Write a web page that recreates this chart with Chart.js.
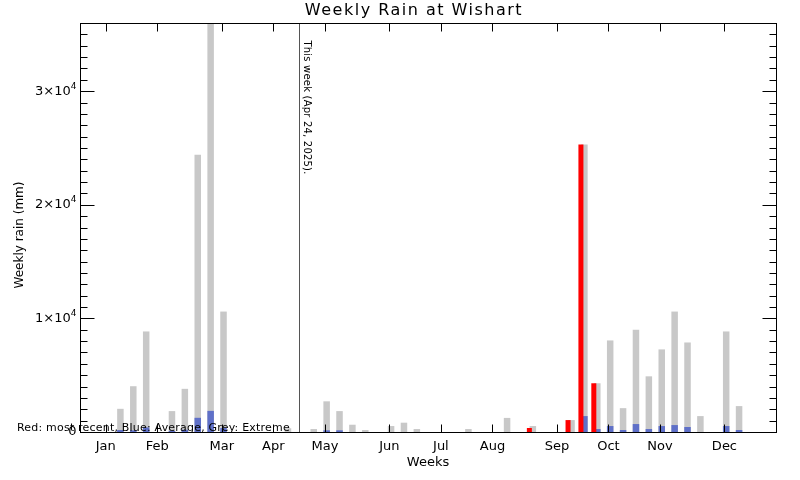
<!DOCTYPE html>
<html>
<head>
<meta charset="utf-8">
<script src="https://cdn.jsdelivr.net/npm/chart.js@4"></script>
<style>
  body { margin: 0; background: #fff; }
  canvas { display: block; }
</style>
</head>
<body>
<canvas id="rainChart" width="800" height="480"></canvas>
<script>
// axis runs over week slots 0..54, data for weeks 1..52
var lastSlot = 54
var monthNames = ['Jan', 'Feb', 'Mar', 'Apr', 'May', 'Jun', 'Jul', 'Aug', 'Sep', 'Oct', 'Nov', 'Dec']
var monthWeeks = [2, 6, 11, 15, 19, 24, 28, 32, 37, 41, 45, 50]
var thisWeek = 17
var thisWeekText = 'This week (Apr 24, 2025).'
var legendText = 'Red: most recent, Blue: Average, Grey: Extreme'
var chartTitle = 'Weekly Rain at Wishart'
var yTitle = 'Weekly rain (mm)'

// weekly rain (mm), weeks 1..52
var extreme = [0, 0, 2040, 4030, 8850, 0, 1840, 3800, 24400, 37000, 10600, 0, 0,
  0, 0, 330, 0, 260, 2700, 1840, 640, 175, 0, 525, 820, 260,
  0, 0, 0, 260, 0, 0, 1240, 0, 525, 0, 0, 1050, 25300,
  4290, 8060, 2100, 9000, 4900, 7270, 10600, 7880, 1400, 0, 8850, 2280, 0]
var average = [0, 0, 175, 150, 400, 0, 100, 200, 1250, 1860, 350, 0, 0,
  0, 0, 0, 0, 0, 150, 150, 0, 0, 0, 0, 0, 0,
  0, 0, 0, 0, 0, 0, 0, 0, 0, 0, 0, 0, 1400,
  260, 525, 175, 700, 260, 525, 610, 440, 0, 0, 525, 175, 0]
var recent = [0, 0, 0, 0, 0, 0, 0, 0, 0, 0, 0, 0, 0,
  0, 0, 0, 0, 0, 0, 0, 0, 0, 0, 0, 0, 0,
  0, 0, 0, 0, 0, 0, 0, 0, 350, 0, 0, 1050, 25300,
  4290, 0, 0, 0, 0, 0, 0, 0, 0, 0, 0, 0, 0]

var yMax = 36000
var yLabelValues = [0, 10000, 20000, 30000]

var slots = []
for (var i = 0; i <= lastSlot; i++) slots.push(i)

function toSlots(values) {
  return slots.map(s => (s >= 1 && s <= values.length) ? values[s - 1] : null)
}

const frame = {
  id: 'frame',
  afterDatasetsDraw(chart) {
    const { ctx, chartArea: a, scales: { x, y } } = chart
    const L = Math.round(a.left) + 0.5
    const R = Math.round(a.right) + 0.5
    const T = Math.round(a.top) + 0.5
    const B = Math.round(a.bottom) + 0.5
    ctx.save()

    // this week marker
    const wx = Math.round(x.getPixelForValue(thisWeek)) + 0.5
    ctx.strokeStyle = '#555'
    ctx.lineWidth = 1
    ctx.beginPath()
    ctx.moveTo(wx, T)
    ctx.lineTo(wx, B)
    ctx.stroke()

    ctx.strokeStyle = '#000'
    ctx.strokeRect(L, T, R - L, B - T)

    ctx.beginPath()
    monthWeeks.forEach(m => {
      const px = Math.round(x.getPixelForValue(m)) + 0.5
      ctx.moveTo(px, B); ctx.lineTo(px, B - 8)
      ctx.moveTo(px, T); ctx.lineTo(px, T + 8)
    })
    for (let v = 0; v <= yMax; v += 1000) {
      const py = Math.round(y.getPixelForValue(v)) + 0.5
      const len = v % 10000 === 0 ? 14 : 7
      ctx.moveTo(L, py); ctx.lineTo(L + len, py)
      ctx.moveTo(R, py); ctx.lineTo(R - len, py)
    }
    ctx.stroke()

    ctx.fillStyle = '#000'

    // y tick labels, n×10⁴
    ctx.textBaseline = 'middle'
    ctx.textAlign = 'right'
    yLabelValues.forEach(v => {
      const py = y.getPixelForValue(v)
      if (v === 0) {
        ctx.font = '13px "DejaVu Sans"'
        ctx.fillText('0', L - 4, py)
        return
      }
      ctx.font = '9px "DejaVu Sans"'
      const ew = ctx.measureText('4').width
      ctx.fillText('4', L - 4, py - 5)
      ctx.font = '13px "DejaVu Sans"'
      ctx.fillText((v / 10000) + '×10', L - 4 - ew, py)
    })

    // titles
    ctx.font = '16px "DejaVu Sans"'
    ctx.letterSpacing = '1.5px'
    ctx.textAlign = 'center'
    ctx.fillText(chartTitle, 414, 11)

    ctx.font = '12px "DejaVu Sans"'
    ctx.letterSpacing = '0px'
    ctx.save()
    ctx.translate(20, 235)
    ctx.rotate(-Math.PI / 2)
    ctx.fillText(yTitle, 0, 0)
    ctx.restore()

    ctx.font = '10px "DejaVu Sans"'
    ctx.letterSpacing = '0.2px'
    ctx.save()
    ctx.translate(wx + 2, T + 17)
    ctx.rotate(Math.PI / 2)
    ctx.textBaseline = 'bottom'
    ctx.textAlign = 'left'
    ctx.fillText(thisWeekText, 0, 0)
    ctx.restore()

    ctx.font = '11px "DejaVu Sans"'
    ctx.letterSpacing = '0.2px'
    ctx.textBaseline = 'alphabetic'
    ctx.textAlign = 'left'
    ctx.fillText(legendText, 17, 431)
    ctx.restore()
  }
}

Chart.defaults.font.family = '"DejaVu Sans", sans-serif'
Chart.defaults.color = '#000'

new Chart(document.getElementById('rainChart'), {
  type: 'bar',
  data: {
    labels: slots,
    datasets: [{
      label: 'Most recent',
      data: toSlots(recent),
      backgroundColor: '#ff0000',
      stack: 'recent',
      categoryPercentage: 0.54,
      barPercentage: 1.44
    }, {
      label: 'Average',
      data: toSlots(average),
      backgroundColor: '#5f70c8',
      stack: 'hist',
      categoryPercentage: 0.54,
      barPercentage: 1.87
    }, {
      label: 'Extreme',
      data: toSlots(extreme),
      backgroundColor: '#c8c8c8',
      stack: 'hist',
      categoryPercentage: 0.54,
      barPercentage: 1.87
    }]
  },
  options: {
    responsive: false,
    animation: false,
    layout: { padding: { left: 0, right: 24, top: 23, bottom: 0 } },
    plugins: {
      legend: { display: false },
      tooltip: { enabled: false },
      title: { display: false }
    },
    scales: {
      x: {
        offset: false,
        grid: { display: false, drawTicks: false },
        border: { display: false },
        ticks: {
          autoSkip: false,
          maxRotation: 0,
          padding: 7,
          font: { size: 13 },
          callback: (val, idx) => {
            const k = monthWeeks.indexOf(idx)
            return k >= 0 ? monthNames[k] : ''
          }
        },
        title: {
          display: true,
          text: 'Weeks',
          font: { size: 13 },
          padding: { top: 0, bottom: 10 }
        },
        afterFit: s => { s.height = 48 }
      },
      y: {
        stacked: false,
        min: 0,
        max: yMax,
        grid: { display: false, drawTicks: false },
        border: { display: false },
        ticks: { display: false },
        afterFit: s => { s.width = 80 }
      }
    }
  },
  plugins: [frame]
})
</script>
</body>
</html>
